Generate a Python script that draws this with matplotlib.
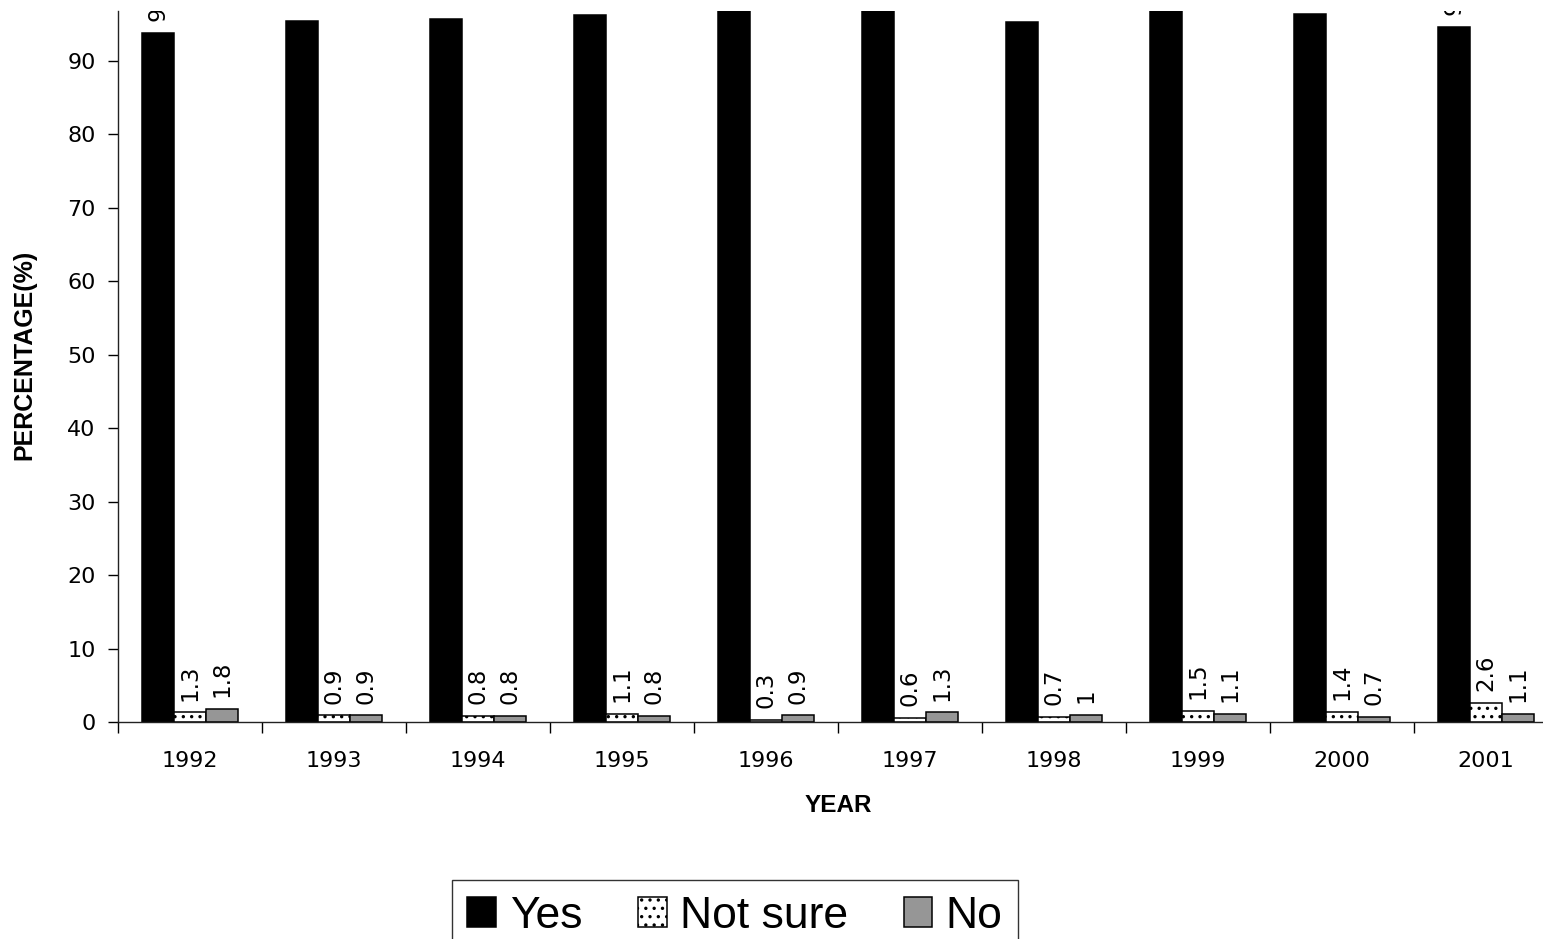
import matplotlib
matplotlib.use('Agg')
import matplotlib.pyplot as plt
import numpy as np

# values
years = ['1992', '1993', '1994', '1995', '1996', '1997', '1998', '1999', '2000', '2001']
yes = [93.8, 95.5, 95.7, 96.2, 98.8, 98.1, 95.3, 97.4, 96.4, 94.6]
not_sure = [1.3, 0.9, 0.8, 1.1, 0.3, 0.6, 0.7, 1.5, 1.4, 2.6]
no = [1.8, 0.9, 0.8, 0.8, 0.9, 1.3, 1.0, 1.1, 0.7, 1.1]

plt.rcParams['hatch.linewidth'] = 1.2

fig = plt.figure(figsize=(15.43, 9.39), dpi=100)
ax = fig.add_axes([118 / 1543, 217 / 939, 1440 / 1543, 711 / 939])

x = np.arange(len(years))
w = 0.222
b1 = ax.bar(x - w, yes, w, color='black', edgecolor='black', linewidth=1.1, label='Yes')
b2 = ax.bar(x, not_sure, w, color='white', edgecolor='black', linewidth=1.1, hatch='..', label='Not sure')
b3 = ax.bar(x + w, no, w, color='#969696', edgecolor='black', linewidth=1.1, label='No')

# value labels, rotated, above each bar (clipped at the plot area like the original)
for bars, vals in [(b1, yes), (b2, not_sure), (b3, no)]:
    for rect, v in zip(bars, vals):
        t = ax.annotate('%g' % v, (rect.get_x() + rect.get_width() / 2, v),
                        xytext=(0, 8.5), textcoords='offset points',
                        rotation=90, ha='center', va='bottom',
                        fontsize=16.5, fontfamily='DejaVu Sans', annotation_clip=False)
        t.set_clip_path(ax.patch)
        t.set_clip_on(True)

ax.set_xlim(-0.5, len(years) - 0.5)
ax.set_ylim(0, 96.8)
ax.set_yticks(range(0, 100, 10))
ax.tick_params(axis='y', direction='out', length=7, width=1, pad=9, labelsize=16)

# ticks between groups, labels at group centres
ax.set_xticks(np.arange(-0.5, len(years), 1.0))
ax.set_xticklabels([])
ax.set_xticks(x, minor=True)
ax.set_xticklabels(years, minor=True)
ax.tick_params(axis='x', which='major', direction='out', length=8, width=1)
ax.tick_params(axis='x', which='minor', length=0, pad=21, labelsize=16)

for s in ['top', 'right']:
    ax.spines[s].set_visible(False)
for s in ['left', 'bottom']:
    ax.spines[s].set_linewidth(1)
    ax.spines[s].set_color('#222222')

fig.text(838 / 1543, 1 - 805 / 939, 'YEAR', ha='center', va='center',
         fontsize=17.5, fontweight='bold', fontfamily='Liberation Sans')
fig.text(24 / 1543, 1 - 355 / 939, 'PERCENTAGE(%)', ha='center', va='center', rotation=90,
         fontsize=18, fontweight='bold', fontfamily='Liberation Sans')

leg = fig.legend(loc='upper center', bbox_to_anchor=(735 / 1543, 1 - 880 / 939), ncol=3,
                 prop={'family': 'Liberation Sans', 'size': 32}, frameon=True, fancybox=False,
                 handlelength=0.65, handleheight=0.65, handletextpad=0.3, columnspacing=1.25,
                 borderpad=0.35, borderaxespad=0)
leg.get_frame().set_edgecolor('black')
leg.get_frame().set_linewidth(1)

fig.savefig('out.png', dpi=100)
